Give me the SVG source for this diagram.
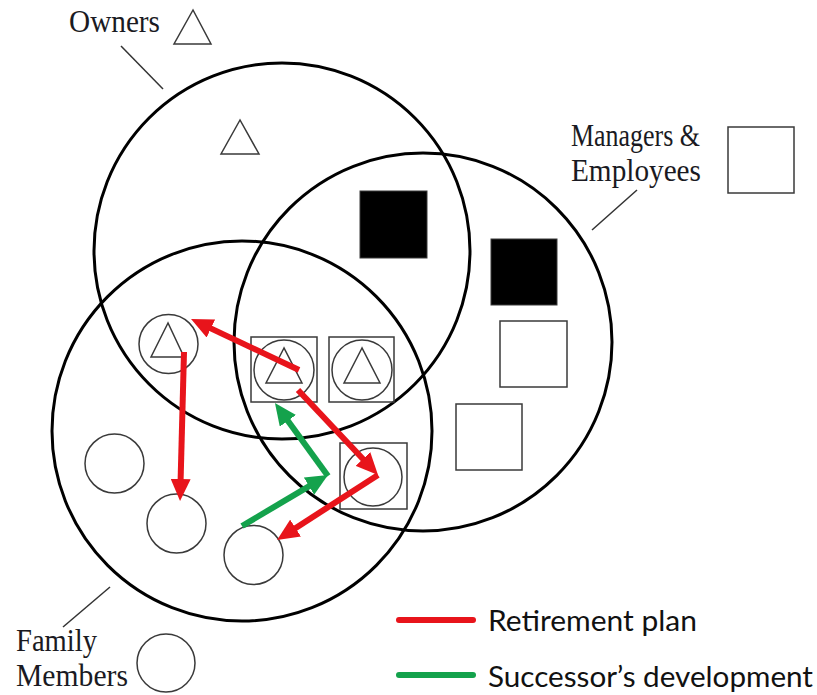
<svg xmlns="http://www.w3.org/2000/svg" width="817" height="695" viewBox="0 0 817 695">
<style>
.big{fill:none;stroke:#000;stroke-width:3}
.sm{fill:none;stroke:#3a3a3a;stroke-width:1.5}
.blk{fill:#000;stroke:#3a3a3a;stroke-width:1}
.lead{fill:none;stroke:#333;stroke-width:1.5}
.lbl{font-family:"Liberation Serif",serif;font-size:31px;fill:#1a1a22}
.leg{font-family:"Lato","Open Sans",sans-serif;font-size:28px;fill:#111}
.red{stroke:#e8141b;stroke-width:6;fill:none}
.grn{stroke:#14a24c;stroke-width:6;fill:none}
</style>
<defs>
<marker id="ar" markerUnits="userSpaceOnUse" markerWidth="22" markerHeight="20" refX="9" refY="10" orient="auto"><path d="M0,0 L22,10 L0,20 z" fill="#e8141b"/></marker>
<marker id="ag" markerUnits="userSpaceOnUse" markerWidth="22" markerHeight="20" refX="9" refY="10" orient="auto"><path d="M0,0 L22,10 L0,20 z" fill="#14a24c"/></marker>
</defs>
<rect width="817" height="695" fill="#fff"/>
<g id="owners-set">
<circle class="big" cx="282" cy="251" r="188"/>
<text class="lbl" x="69" y="32" textLength="91" lengthAdjust="spacingAndGlyphs">Owners</text>
<polygon class="sm" points="193,10 174,44 211,44"/>
<line class="lead" x1="121" y1="46" x2="163" y2="89"/>
</g>
<g id="managers-set">
<circle class="big" cx="423" cy="342" r="189"/>
<text class="lbl" x="571" y="146" textLength="129" lengthAdjust="spacingAndGlyphs">Managers &amp;</text>
<text class="lbl" x="571" y="181" textLength="130" lengthAdjust="spacingAndGlyphs">Employees</text>
<rect class="sm" x="728" y="127" width="66" height="66"/>
<line class="lead" x1="637" y1="190" x2="592" y2="230"/>
</g>
<g id="family-set">
<circle class="big" cx="242" cy="431" r="190"/>
<text class="lbl" x="16" y="651" textLength="81" lengthAdjust="spacingAndGlyphs">Family</text>
<text class="lbl" x="16" y="686" textLength="112" lengthAdjust="spacingAndGlyphs">Members</text>
<circle class="sm" cx="166" cy="663" r="29"/>
<line class="lead" x1="110" y1="587" x2="63" y2="627"/>
</g>
<g id="owner-only">
<polygon class="sm" points="240,120 221,154 259,154"/>
</g>
<g id="manager-owner">
<rect class="blk" x="360" y="191" width="67" height="67"/>
</g>
<g id="manager-1">
<rect class="blk" x="491" y="239" width="66" height="66"/>
</g>
<g id="employee-1">
<rect class="sm" x="500" y="321" width="67" height="66"/>
</g>
<g id="employee-2">
<rect class="sm" x="456" y="404" width="66" height="66"/>
</g>
<g id="family-owner">
<circle class="sm" cx="168.5" cy="344" r="29.5"/>
<polygon class="sm" points="168,323 151,357 184,357"/>
</g>
<g id="family-owner-manager-1">
<rect class="sm" x="251" y="337" width="66" height="65"/>
<circle class="sm" cx="284" cy="370" r="30"/>
<polygon class="sm" points="284,348 266,383 302,383"/>
</g>
<g id="family-owner-manager-2">
<rect class="sm" x="329" y="337" width="65" height="65"/>
<circle class="sm" cx="362" cy="370" r="30"/>
<polygon class="sm" points="362,348 344,383 380,383"/>
</g>
<g id="family-manager">
<rect class="sm" x="340" y="443" width="67" height="66"/>
<circle class="sm" cx="373" cy="477" r="29"/>
</g>
<g id="family-1"><circle class="sm" cx="114.5" cy="463.5" r="29.5"/></g>
<g id="family-2"><circle class="sm" cx="176.5" cy="523.5" r="29.5"/></g>
<g id="family-3"><circle class="sm" cx="253.5" cy="555" r="29.5"/></g>
<g id="connectors">
<line class="red" x1="299" y1="370" x2="202.8" y2="324.6" marker-end="url(#ar)"/>
<line class="red" x1="184" y1="352" x2="180.4" y2="488" marker-end="url(#ar)"/>
<line class="red" x1="298" y1="390" x2="369.1" y2="465.5" marker-end="url(#ar)"/>
<line class="red" x1="378" y1="475" x2="288" y2="532.9" marker-end="url(#ar)"/>
<line class="grn" x1="242" y1="526" x2="316.8" y2="481.6" marker-end="url(#ag)"/>
<line class="grn" x1="328" y1="476" x2="282.6" y2="413.5" marker-end="url(#ag)"/>
</g>
<g id="legend">
<line x1="399" y1="620" x2="473" y2="620" stroke="#e8141b" stroke-width="6" stroke-linecap="round"/>
<line x1="399" y1="675" x2="473" y2="675" stroke="#14a24c" stroke-width="6" stroke-linecap="round"/>
<text class="leg" x="488" y="631" textLength="209" lengthAdjust="spacingAndGlyphs">Retirement plan</text>
<text class="leg" x="488" y="687" textLength="325" lengthAdjust="spacingAndGlyphs">Successor’s development</text>
</g>
</svg>
